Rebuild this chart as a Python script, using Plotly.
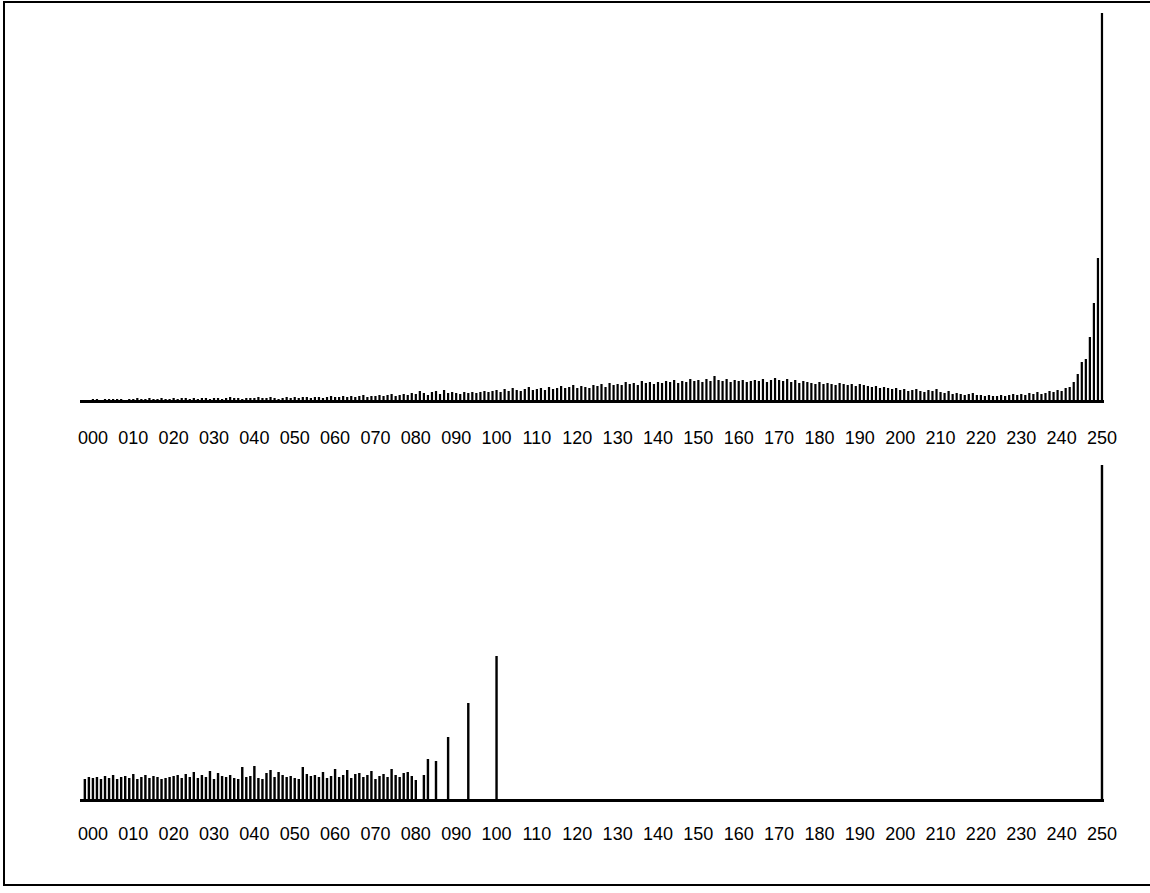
import plotly.graph_objects as go
from plotly.subplots import make_subplots

# ---- data (bar heights, arbitrary count units) ----
top_bins = list(range(0, 251))
top_counts = [
    1, 1, 0, 1, 1, 1, 1, 1, 0, 1,
    1, 2, 1, 1, 2, 1, 1, 2, 1, 1,
    2, 1, 2, 2, 1, 2, 1, 2, 2, 1,
    2, 2, 1, 2, 3, 2, 2, 1, 2, 2,
    2, 3, 2, 2, 3, 2, 1, 2, 3, 2,
    3, 2, 3, 3, 2, 3, 3, 2, 3, 4,
    3, 3, 4, 3, 4, 3, 4, 5, 3, 4,
    4, 5, 4, 5, 6, 4, 5, 6, 5, 7,
    6, 9, 7, 5, 8, 9, 6, 10, 7, 8,
    7, 6, 8, 7, 8, 7, 8, 9, 8, 9,
    10, 8, 11, 9, 12, 10, 9, 11, 13, 10,
    11, 12, 10, 13, 11, 12, 14, 12, 13, 15,
    12, 14, 13, 12, 15, 14, 16, 13, 17, 15,
    16, 15, 18, 16, 17, 15, 19, 17, 18, 16,
    18, 17, 19, 18, 20, 17, 19, 18, 21, 19,
    20, 18, 21, 19, 24, 20, 19, 21, 18, 20,
    19, 20, 18, 19, 20, 19, 21, 18, 20, 22,
    20, 19, 21, 18, 20, 17, 19, 18, 17, 16,
    18, 16, 17, 16, 15, 17, 16, 15, 16, 14,
    16, 15, 14, 13, 14, 12, 13, 12, 11, 12,
    10, 11, 9, 10, 11, 9, 8, 10, 9, 11,
    8, 7, 9, 6, 7, 6, 5, 6, 7, 5,
    5, 4, 5, 4, 4, 5, 4, 5, 6, 5,
    6, 5, 7, 6, 8, 6, 7, 9, 8, 10,
    9, 12, 13, 18, 26, 38, 41, 63, 97, 142,
    400,
]

bottom_bins = list(range(-2, 81)) + [82, 83, 85, 88, 93, 100, 250]
bottom_counts = [
    20, 22, 21, 22, 20, 23, 21, 24, 20, 22,
    23, 21, 25, 20, 22, 24, 21, 23, 22, 20,
    21, 22, 23, 24, 21, 25, 22, 27, 21, 24,
    22, 28, 20, 26, 23, 22, 24, 21, 20, 32,
    22, 23, 33, 21, 20, 26, 29, 22, 27, 24,
    22, 23, 21, 20, 32, 25, 23, 24, 22, 27,
    21, 23, 30, 22, 24, 29, 21, 25, 26, 22,
    24, 28, 20, 23, 25, 22, 30, 24, 22, 26,
    27, 23, 19,
    24, 40, 38, 62, 96, 143, 400,
]

tick_vals = list(range(0, 251, 10))
tick_text = ["%03d" % v for v in tick_vals]

# ---- figure ----
W, H = 1150, 893
L, R = 80, 1104
T, B = 13, 799
top_base = 400
bot_top = 465
plot_h = B - T

fig = make_subplots(rows=2, cols=1)

fig.add_trace(go.Bar(x=top_bins, y=top_counts, marker_color="black",
                     marker_line_width=0, width=0.55, showlegend=False),
              row=1, col=1)
fig.add_trace(go.Bar(x=bottom_bins, y=bottom_counts, marker_color="black",
                     marker_line_width=0, width=0.6, showlegend=False),
              row=2, col=1)

xr = [-3.2, 250.5]
axis_common = dict(
    range=xr, showgrid=False, zeroline=False, showline=True,
    linecolor="black", linewidth=3, ticks="",
    tickmode="array", tickvals=tick_vals, ticktext=tick_text,
    tickfont=dict(family="Liberation Sans, Arial", size=18, color="black"),
)
fig.update_xaxes(**axis_common, ticklabelstandoff=19, row=1, col=1)
fig.update_xaxes(**axis_common, ticklabelstandoff=16, row=2, col=1)

fig.update_yaxes(showgrid=False, zeroline=False, showline=False,
                 showticklabels=False, ticks="")
fig.update_yaxes(range=[0, top_base - T], row=1, col=1)
fig.update_yaxes(range=[0, B - bot_top], row=2, col=1)

fig.update_layout(
    width=W, height=H,
    margin=dict(l=L, r=W - R, t=T, b=H - B),
    paper_bgcolor="white", plot_bgcolor="white",
    bargap=0.5,
    xaxis=dict(domain=[0, 1]),
    yaxis=dict(domain=[(B - top_base) / plot_h, 1.0]),
    xaxis2=dict(domain=[0, 1]),
    yaxis2=dict(domain=[0, (B - bot_top) / plot_h]),
)

# outer frame (in paper coords)
def px_x(x):
    return (x - L) / (R - L)

def px_y(y):
    return (B - y) / plot_h

fig.add_shape(type="rect", xref="paper", yref="paper",
              x0=px_x(4), x1=px_x(1160), y0=px_y(885), y1=px_y(2),
              line=dict(color="black", width=2), fillcolor="rgba(0,0,0,0)",
              layer="above")

fig.write_html("out.html",
               config={"displayModeBar": False},
               post_script="document.body.style.margin='0';"
                           "document.body.style.overflow='hidden';")
